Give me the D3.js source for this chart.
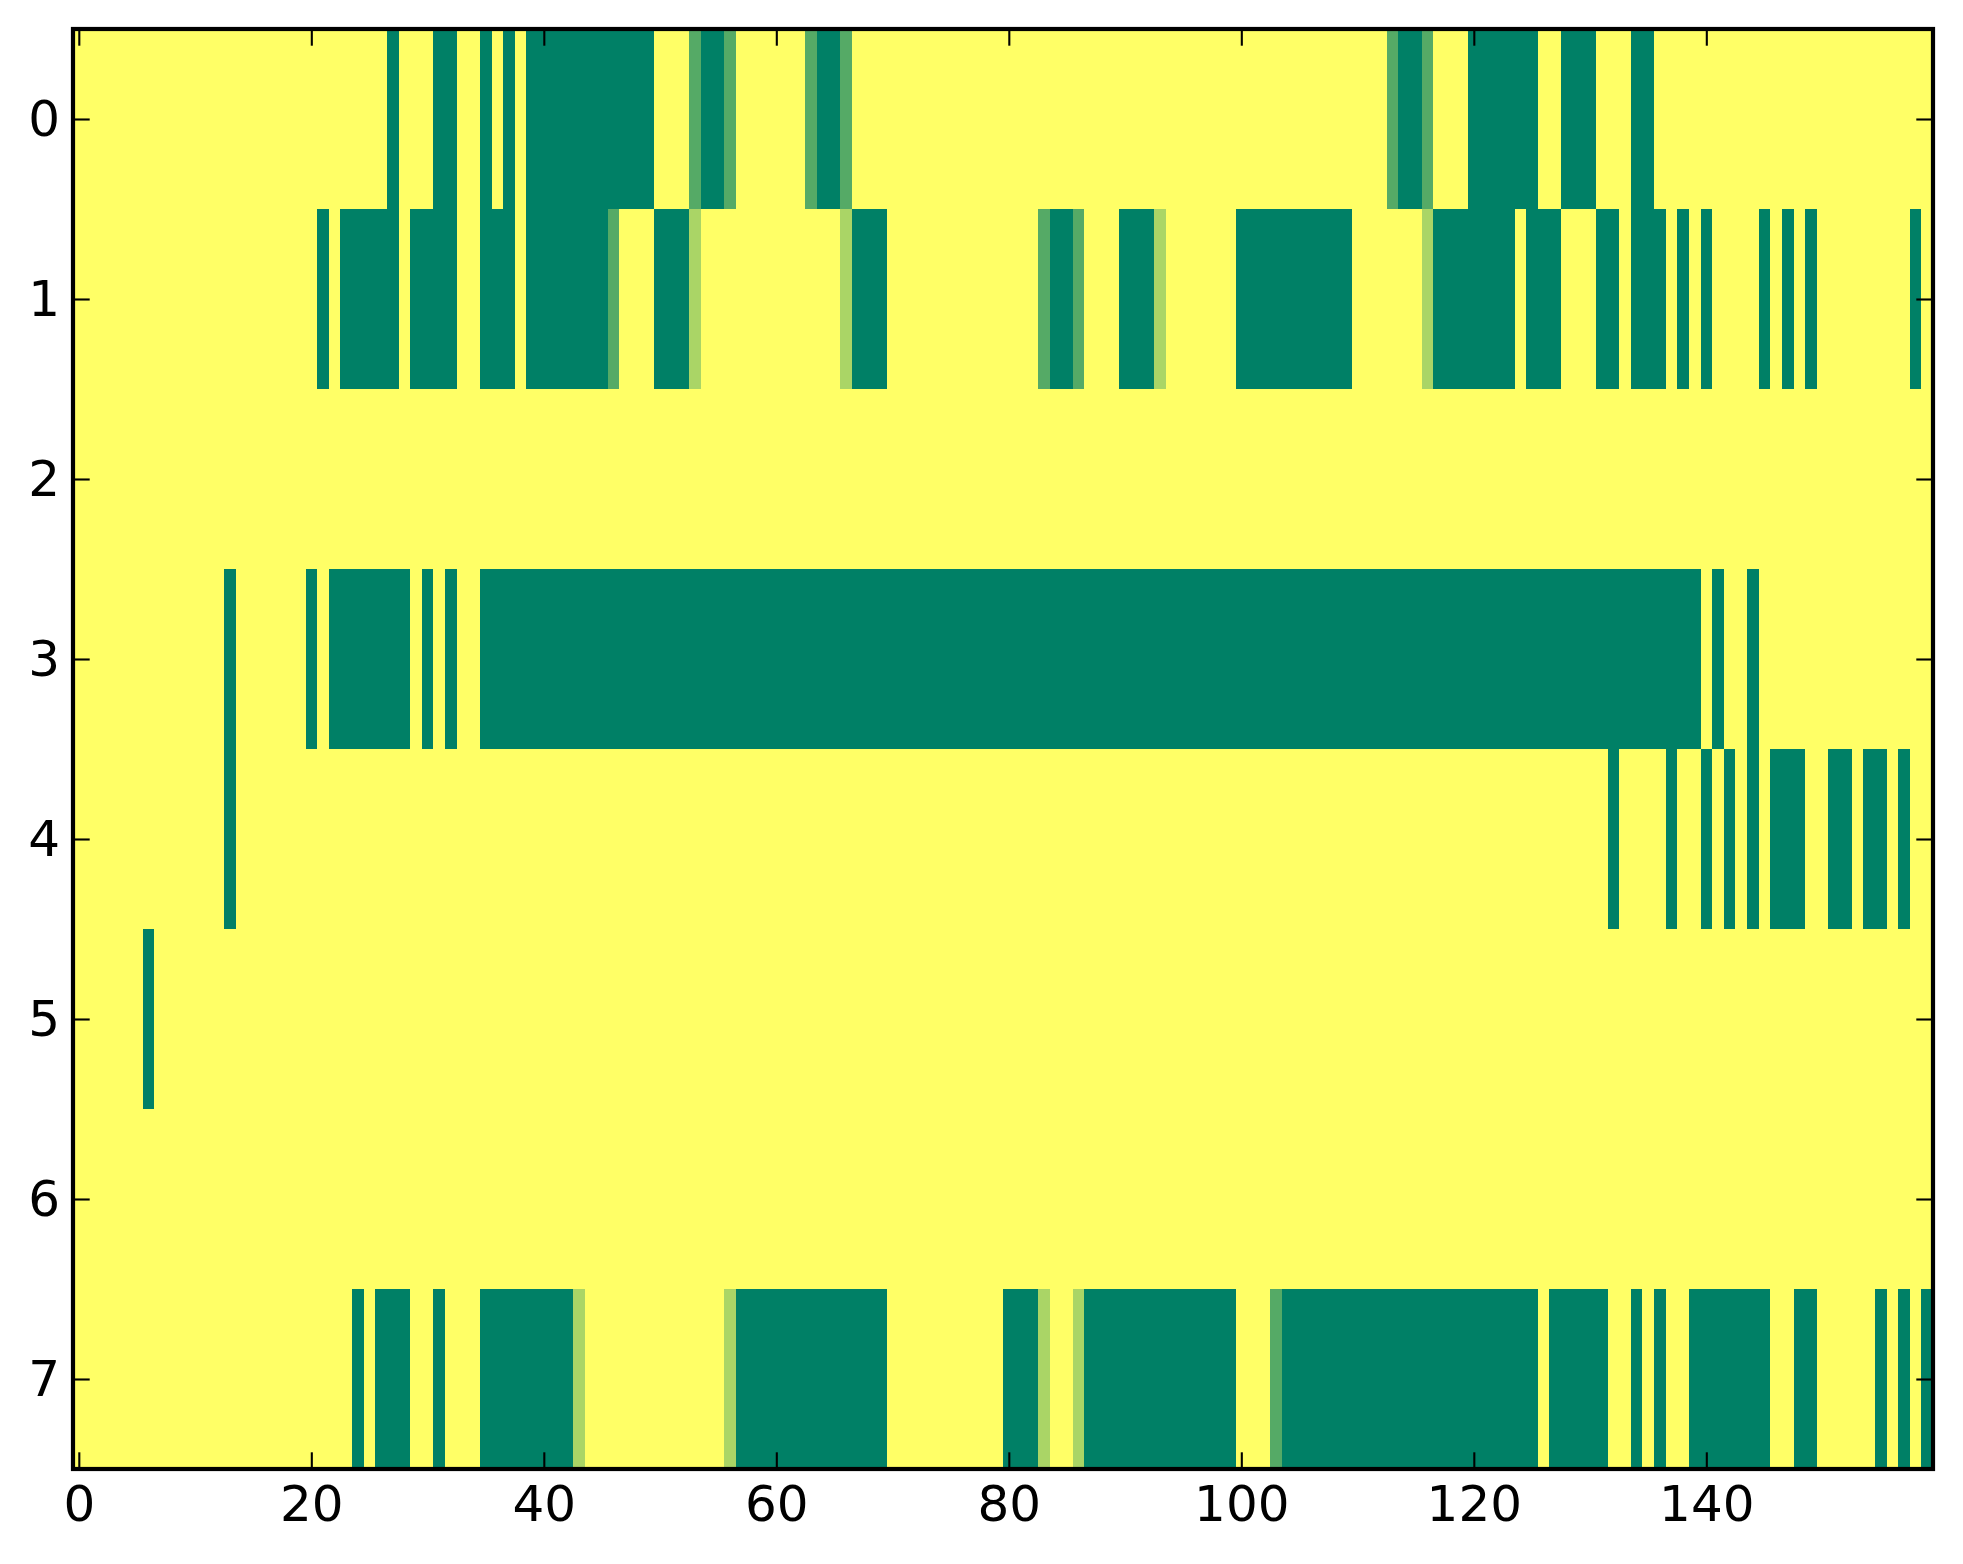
<!DOCTYPE html>
<html>
<head>
<meta charset="utf-8">
<script src="https://cdn.jsdelivr.net/npm/d3@7"></script>
<style>
  html, body { margin: 0; padding: 0; background: #ffffff; }
  svg { display: block; }
</style>
</head>
<body>
<svg id="chart" width="1963" height="1564"></svg>
<script>
// ---- data: 8 rows x 160 columns; digit d means value d/3 (0 = green ... 3 = yellow)
const row0 = "3333333333 3333333333 3333333033 3003303030 0000000000 3331001333 3331001333 3333333333 3333333333 3333333333 3333333333 3331001333 0000003300 0333003333 3333333333 3333333333";
const row1 = "3333333333 3333333333 3030000030 0003300030 0000001333 0002333333 3333332000 3333333333 3331001333 0002333333 0000000000 3333332000 0000300033 3003000303 0333303030 3333333303";
const row2 = "3333333333 3333333333 3333333333 3333333333 3333333333 3333333333 3333333333 3333333333 3333333333 3333333333 3333333333 3333333333 3333333333 3333333333 3333333333 3333333333";
const row3 = "3333333333 3330333333 0300000003 0303300000 0000000000 0000000000 0000000000 0000000000 0000000000 0000000000 0000000000 0000000000 0000000000 0000000000 3033033333 3333333333";
const row4 = "3333333333 3330333333 3333333333 3333333333 3333333333 3333333333 3333333333 3333333333 3333333333 3333333333 3333333333 3333333333 3333333333 3303333033 0303030003 3003003033";
const row5 = "3333330333 3333333333 3333333333 3333333333 3333333333 3333333333 3333333333 3333333333 3333333333 3333333333 3333333333 3333333333 3333333333 3333333333 3333333333 3333333333";
const row6 = "3333333333 3333333333 3333333333 3333333333 3333333333 3333333333 3333333333 3333333333 3333333333 3333333333 3333333333 3333333333 3333333333 3333333333 3333333333 3333333333";
const row7 = "3333333333 3333333333 3333030003 3033300000 0002333333 3333332000 0000000000 3333333333 0002332000 0000000000 3331000000 0000000000 0000003000 0033030330 0000003300 3333303030";
const rowStrings = [row0, row1, row2, row3, row4, row5, row6, row7];

const xTicks = [0, 20, 40, 60, 80, 100, 120, 140];
const yTicks = [0, 1, 2, 3, 4, 5, 6, 7];

// ---- decode into cells
const cells = [];
rowStrings.forEach((s, r) => {
  s.replace(/\s+/g, "").split("").forEach((ch, c) => {
    cells.push({ row: r, col: c, value: (+ch) / 3 });
  });
});
const nCols = 160, nRows = 8;

// ---- layout (pixels)
const L = 73, T = 29, W = 1860, H = 1440;
const fontSize = 50, tickLen = 16.7, padX = 16.7, padY = 13;

const svg = d3.select("#chart");
const x = d3.scaleLinear().domain([-0.5, nCols - 0.5]).range([L, L + W]);
const y = d3.scaleLinear().domain([-0.5, nRows - 0.5]).range([T, T + H]);
// matplotlib "summer" colormap: (v, 0.5 + v/2, 0.4)
const color = d3.scaleLinear().domain([0, 1]).range(["rgb(0,128,102)", "rgb(255,255,102)"]);

svg.append("g")
  .attr("shape-rendering", "crispEdges")
  .selectAll("rect")
  .data(cells)
  .join("rect")
  .attr("x", d => x(d.col - 0.5))
  .attr("y", d => y(d.row - 0.5))
  .attr("width", d => x(d.col + 0.5) - x(d.col - 0.5) + 0.6)
  .attr("height", d => y(d.row + 0.5) - y(d.row - 0.5) + 0.6)
  .attr("fill", d => color(d.value));

function styleAxis(g, showLabels) {
  g.select(".domain").remove();
  g.selectAll(".tick line").attr("stroke", "#000").attr("stroke-width", 2.1);
  g.selectAll(".tick text")
    .attr("font-family", "'DejaVu Sans', sans-serif")
    .attr("font-size", fontSize)
    .attr("fill", "#000");
  if (!showLabels) g.selectAll(".tick text").remove();
}

// bottom
svg.append("g").attr("transform", `translate(0,${T + H})`)
  .call(d3.axisBottom(x).tickValues(xTicks).tickFormat(d3.format("d"))
    .tickSizeInner(-tickLen).tickSizeOuter(0).tickPadding(padX))
  .call(g => styleAxis(g, true));
// top
svg.append("g").attr("transform", `translate(0,${T})`)
  .call(d3.axisTop(x).tickValues(xTicks).tickSizeInner(-tickLen).tickSizeOuter(0))
  .call(g => styleAxis(g, false));
// left
svg.append("g").attr("transform", `translate(${L},0)`)
  .call(d3.axisLeft(y).tickValues(yTicks).tickFormat(d3.format("d"))
    .tickSizeInner(-tickLen).tickSizeOuter(0).tickPadding(padY))
  .call(g => styleAxis(g, true));
// right
svg.append("g").attr("transform", `translate(${L + W},0)`)
  .call(d3.axisRight(y).tickValues(yTicks).tickSizeInner(-tickLen).tickSizeOuter(0))
  .call(g => styleAxis(g, false));

// frame (spines)
svg.append("rect")
  .attr("x", L).attr("y", T).attr("width", W).attr("height", H)
  .attr("fill", "none").attr("stroke", "#000").attr("stroke-width", 4.2);
</script>
</body>
</html>
